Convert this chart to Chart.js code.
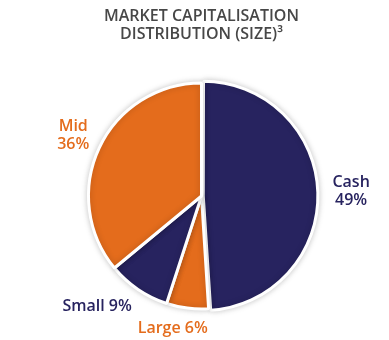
<!DOCTYPE html>
<html>
<head>
<meta charset="utf-8">
<script src="https://cdn.jsdelivr.net/npm/chart.js@4"></script>
<style>
  html, body { margin: 0; padding: 0; background: #fff; }
  #wrap { width: 389px; height: 340px; position: relative; }
</style>
</head>
<body>
<div id="wrap"><canvas id="capChart"></canvas></div>
<script>
// data
const categories = ['Cash', 'Large', 'Small', 'Mid'];
const shares = [49, 6, 9, 36];
const twoLineLabel = [true, false, false, true];
const sliceColors = ['#27235f', '#e46c1c', '#27235f', '#e46c1c'];
const titleLines = ['MARKET CAPITALISATION', 'DISTRIBUTION (SIZE)\u00B3'];

const labelFont = '600 16px "Open Sans"';
const labelLineH = 18;

// soft grey shadow around the pie
const pieShadow = {
  id: 'pieShadow',
  beforeDatasetsDraw(chart) {
    const ctx = chart.ctx;
    ctx.save();
    ctx.shadowColor = 'rgba(0,0,0,0.2)';
    ctx.shadowBlur = 6;
  },
  afterDatasetsDraw(chart) {
    chart.ctx.restore();
  }
};

// labels outside the slices, pushed out along each slice's middle angle
const outsideLabels = {
  id: 'outsideLabels',
  afterDatasetsDraw(chart) {
    const ctx = chart.ctx;
    const meta = chart.getDatasetMeta(0);
    ctx.save();
    ctx.font = labelFont;
    ctx.textAlign = 'center';
    ctx.textBaseline = 'middle';
    meta.data.forEach((arc, i) => {
      const p = arc.getProps(['x', 'y', 'startAngle', 'endAngle', 'outerRadius'], true);
      const mid = (p.startAngle + p.endAngle) / 2;
      const dx = Math.cos(mid), dy = Math.sin(mid);
      const off = arc.options.offset || 0;
      const r = p.outerRadius + off + 11;
      const ax = p.x + dx * r, ay = p.y + dy * r;

      const lines = twoLineLabel[i]
        ? [categories[i], shares[i] + '%']
        : [categories[i] + ' ' + shares[i] + '%'];
      const w = Math.max(...lines.map(l => ctx.measureText(l).width));
      const h = lines.length * labelLineH;
      const sx = Math.max(-1, Math.min(1, dx * 3));
      const cx = ax + sx * w / 2;
      const cy = ay + dy * h / 2;

      ctx.fillStyle = sliceColors[i];
      lines.forEach((l, k) => {
        ctx.fillText(l, cx, cy - h / 2 + labelLineH * (k + 0.5));
      });
    });
    ctx.restore();
  }
};

new Chart(document.getElementById('capChart'), {
  type: 'pie',
  data: {
    labels: categories,
    datasets: [{
      data: shares,
      backgroundColor: sliceColors,
      borderColor: '#ffffff',
      borderWidth: 3,
      offset: [7, 0, 0, 0],
      hoverOffset: 0
    }]
  },
  options: {
    responsive: true,
    maintainAspectRatio: false,
    animation: false,
    events: [],
    radius: 113,
    layout: { padding: { left: 14, right: 0, top: 0, bottom: 0 } },
    plugins: {
      legend: { display: false },
      tooltip: { enabled: false },
      title: {
        display: true,
        text: titleLines,
        color: '#474747',
        font: { family: '"Open Sans"', size: 16, weight: '600', lineHeight: 1.125 },
        padding: { top: 7, bottom: 9 }
      }
    }
  },
  plugins: [pieShadow, outsideLabels]
});
</script>
</body>
</html>
